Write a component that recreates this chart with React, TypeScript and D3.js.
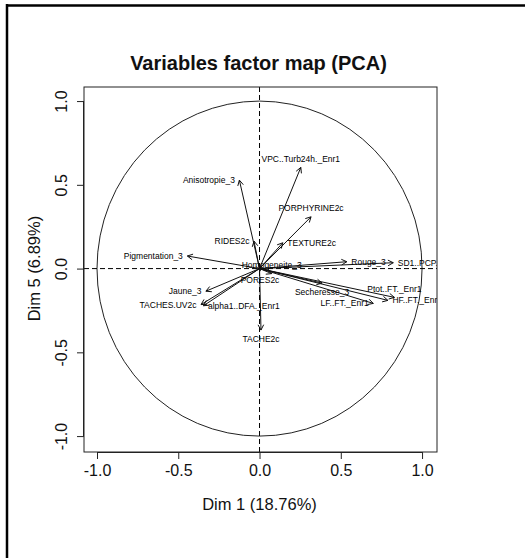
import { useRef, useEffect } from "react";
import * as d3 from "d3";

// variable coordinates on Dim 1 / Dim 5
const varNames = [
  "VPC..Turb24h._Enr1", "Anisotropie_3", "PORPHYRINE2c", "TEXTURE2c", "RIDES2c",
  "Pigmentation_3", "Rouge_3", "SD1..PCP..", "Ptot..FT._Enr1", "HF..FT._Enr1",
  "LF..FT._Enr1", "Secheresse_3", "Jaune_3", "TACHES.UV2c", "alpha1..DFA._Enr1",
  "TACHE2c", "Homogeneite_3", "PORES2c",
];
const dim1 = [0.254, -0.124, 0.317, 0.143, -0.034, -0.444, 0.537, 0.823, 0.83, 0.79, 0.7, 0.385, -0.33, -0.36, -0.345, 0.009, 0.075, 0.003];
const dim5 = [0.604, 0.528, 0.309, 0.154, 0.164, 0.075, 0.041, 0.035, -0.172, -0.19, -0.208, -0.087, -0.135, -0.215, -0.222, -0.367, -0.03, -0.015];
// R text() pos code: 1 below, 2 left, 3 above, 4 right
const labelPos = [3, 2, 3, 4, 2, 2, 4, 4, 3, 4, 2, 1, 2, 2, 4, 1, 3, 1];

const xTicks = [-1, -0.5, 0, 0.5, 1];
const yTicks = [-1, -0.5, 0, 0.5, 1];
const title = "Variables factor map (PCA)";
const xTitle = "Dim 1 (18.76%)";
const yTitle = "Dim 5 (6.89%)";

const W = 525;
const H = 558;
const box = { left: 84, right: 437, top: 87, bottom: 452 };

const App = () => {
  const svgRef = useRef<SVGSVGElement | null>(null);

  useEffect(() => {
    if (!svgRef.current) return;
    const svg = d3.select(svgRef.current);
    svg.selectAll("*").remove();

    const font = "'Liberation Sans', Arial, sans-serif";
    const x = d3.scaleLinear().domain([-1.08, 1.092]).range([box.left, box.right]);
    const y = d3.scaleLinear().domain([-1.095, 1.084]).range([box.bottom, box.top]);

    // page borders (top and left)
    svg.append("line").attr("x1", 7).attr("x2", W).attr("y1", 5.5).attr("y2", 5.5)
      .attr("stroke", "#000").attr("stroke-width", 2.5);
    svg.append("line").attr("x1", 7).attr("x2", 7).attr("y1", 4).attr("y2", H)
      .attr("stroke", "#000").attr("stroke-width", 2.5);

    svg.append("defs").append("clipPath").attr("id", "plotclip")
      .append("rect").attr("x", box.left).attr("y", box.top)
      .attr("width", box.right - box.left).attr("height", box.bottom - box.top);

    const plot = svg.append("g").attr("clip-path", "url(#plotclip)");

    // unit circle
    plot.append("ellipse")
      .attr("cx", x(0)).attr("cy", y(0))
      .attr("rx", x(1) - x(0)).attr("ry", y(0) - y(1))
      .attr("fill", "none").attr("stroke", "#222").attr("stroke-width", 1);

    // dashed zero lines
    plot.append("line").attr("x1", box.left).attr("x2", box.right)
      .attr("y1", y(0)).attr("y2", y(0))
      .attr("stroke", "#000").attr("stroke-dasharray", "5,3");
    plot.append("line").attr("x1", x(0)).attr("x2", x(0))
      .attr("y1", box.top).attr("y2", box.bottom)
      .attr("stroke", "#000").attr("stroke-dasharray", "5,3");

    // arrows
    const headLen = 6;
    const headAng = (28 * Math.PI) / 180;
    varNames.forEach((_, i) => {
      const x0 = x(0), y0 = y(0);
      const x1 = x(dim1[i]), y1 = y(dim5[i]);
      const a = Math.atan2(y1 - y0, x1 - x0);
      const path = d3.path();
      path.moveTo(x0, y0);
      path.lineTo(x1, y1);
      path.moveTo(x1 - headLen * Math.cos(a - headAng), y1 - headLen * Math.sin(a - headAng));
      path.lineTo(x1, y1);
      path.lineTo(x1 - headLen * Math.cos(a + headAng), y1 - headLen * Math.sin(a + headAng));
      plot.append("path").attr("d", path.toString())
        .attr("fill", "none").attr("stroke", "#111").attr("stroke-width", 1);
    });

    // labels
    const off = 4.5;
    varNames.forEach((name, i) => {
      const px = x(dim1[i]), py = y(dim5[i]);
      const p = labelPos[i];
      let tx = px, ty = py, anchor = "middle";
      if (p === 1) ty = py + off + 4;
      if (p === 3) ty = py - off - 4;
      if (p === 2) { tx = px - off; anchor = "end"; }
      if (p === 4) { tx = px + off; anchor = "start"; }
      plot.append("text")
        .attr("x", tx).attr("y", ty)
        .attr("text-anchor", anchor)
        .attr("dominant-baseline", "central")
        .attr("font-family", font).attr("font-size", 8.5)
        .attr("fill", "#000")
        .text(name);
    });

    // frame
    svg.append("rect").attr("x", box.left).attr("y", box.top)
      .attr("width", box.right - box.left).attr("height", box.bottom - box.top)
      .attr("fill", "none").attr("stroke", "#222").attr("stroke-width", 1);

    // x axis
    const xAxis = svg.append("g").attr("transform", `translate(0,${box.bottom})`)
      .call(d3.axisBottom(x).tickValues(xTicks).tickSize(7).tickPadding(6).tickFormat(d3.format(".1f")));
    xAxis.select(".domain").attr("d", `M${x(-1)},0.5H${x(1)}`).attr("stroke", "#222");
    xAxis.selectAll(".tick line").attr("stroke", "#222");
    xAxis.selectAll(".tick text").attr("font-family", font).attr("font-size", 16).attr("fill", "#111")
      .text((d) => d3.format(".1f")(d as number).replace("−", "-"));

    // y axis
    const yAxis = svg.append("g").attr("transform", `translate(${box.left},0)`)
      .call(d3.axisLeft(y).tickValues(yTicks).tickSize(7).tickFormat(d3.format(".1f")));
    yAxis.select(".domain").attr("d", `M-0.5,${y(-1)}V${y(1)}`).attr("stroke", "#222");
    yAxis.selectAll(".tick line").attr("stroke", "#222");
    yAxis.selectAll(".tick text")
      .attr("x", 0).attr("dy", null).attr("y", 0)
      .attr("transform", "translate(-17,0) rotate(-90)")
      .attr("text-anchor", "middle")
      .attr("font-family", font).attr("font-size", 16).attr("fill", "#111")
      .text((d) => d3.format(".1f")(d as number).replace("−", "-"));

    // titles
    svg.append("text").attr("x", 258.5).attr("y", 70)
      .attr("text-anchor", "middle").attr("font-family", font)
      .attr("font-weight", "bold").attr("font-size", 20).attr("fill", "#111")
      .text(title);
    svg.append("text").attr("x", x(0)).attr("y", 510)
      .attr("text-anchor", "middle").attr("font-family", font)
      .attr("font-size", 16.5).attr("fill", "#111")
      .text(xTitle);
    svg.append("text")
      .attr("transform", `translate(40,${y(0)}) rotate(-90)`)
      .attr("text-anchor", "middle").attr("font-family", font)
      .attr("font-size", 16.5).attr("fill", "#111")
      .text(yTitle);
  }, []);

  return (
    <div style={{ position: "fixed", left: 0, top: 0, background: "#fff" }}>
      <svg ref={svgRef} width={W} height={H} viewBox={`0 0 ${W} ${H}`} style={{ display: "block" }}></svg>
    </div>
  );
};

export default App;
